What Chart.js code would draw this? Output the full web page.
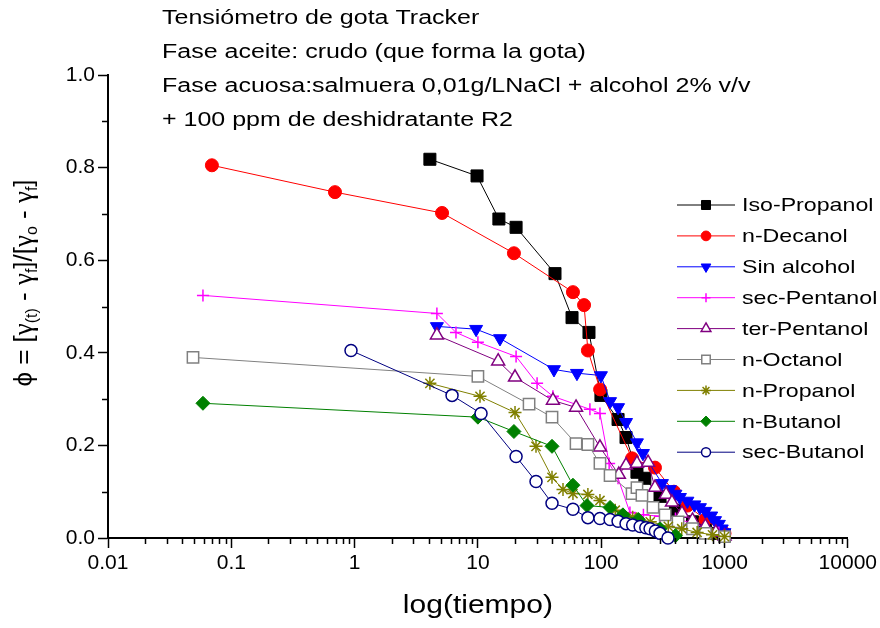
<!DOCTYPE html>
<html>
<head>
<meta charset="utf-8">
<script src="https://cdn.jsdelivr.net/npm/chart.js@4.4.1/dist/chart.umd.min.js"></script>
<style>
  html, body { margin: 0; padding: 0; background: #fff; }
  #wrap { width: 880px; height: 628px; }
</style>
</head>
<body>
<div id="wrap"><canvas id="chart" width="880" height="628"></canvas></div>
<script>
// series names and colours (legend order)
const seriesNames = ['Iso-Propanol', 'n-Decanol', 'Sin alcohol', 'sec-Pentanol', 'ter-Pentanol',
                     'n-Octanol', 'n-Propanol', 'n-Butanol', 'sec-Butanol'];

// values (time in s, phi)
const isoPropanolX = [4.08, 9.84, 14.8, 20.4, 42.2, 58, 79.6, 99.5, 137, 159, 195, 226, 300, 400, 550, 700, 850, 1000];
const isoPropanolY = [0.818, 0.782, 0.689, 0.671, 0.571, 0.476, 0.444, 0.308, 0.256, 0.217, 0.142, 0.129, 0.09, 0.06, 0.035, 0.02, 0.01, 0.005];

const nDecanolX = [0.0696, 0.693, 5.12, 19.6, 59, 72.6, 78, 98, 178, 273, 389, 500, 700, 1000];
const nDecanolY = [0.805, 0.747, 0.702, 0.615, 0.531, 0.503, 0.405, 0.321, 0.172, 0.152, 0.1, 0.07, 0.04, 0.01];

const sinAlcoholX = [4.65, 9.67, 15.1, 41.4, 63.6, 99.5, 118, 137, 159, 195, 218, 311, 360, 400, 435, 500, 570, 632, 700, 780, 838, 900, 950, 1000];
const sinAlcoholY = [0.457, 0.451, 0.431, 0.364, 0.356, 0.351, 0.295, 0.282, 0.250, 0.206, 0.183, 0.118, 0.105, 0.095, 0.088, 0.08, 0.072, 0.066, 0.058, 0.048, 0.038, 0.03, 0.02, 0.012];

const secPentanolX = [0.0589, 4.65, 6.64, 10.0, 20.4, 30.2, 40.6, 81, 97.7, 116, 137, 171, 220, 300, 400, 550, 700, 900, 1000];
const secPentanolY = [0.524, 0.485, 0.444, 0.423, 0.392, 0.334, 0.306, 0.278, 0.269, 0.161, 0.129, 0.055, 0.05, 0.047, 0.042, 0.032, 0.022, 0.012, 0.005];

const terPentanolX = [4.65, 14.6, 20.0, 40.6, 62.5, 97.7, 139, 159, 195, 240, 273, 336, 375, 452, 550, 700, 850, 1000];
const terPentanolY = [0.438, 0.382, 0.347, 0.297, 0.282, 0.196, 0.137, 0.157, 0.161, 0.163, 0.109, 0.094, 0.077, 0.053, 0.038, 0.025, 0.012, 0.004];

const nOctanolX = [0.0489, 10.0, 26, 39.9, 62.5, 78, 97.7, 118, 178, 195, 214, 263, 330, 420, 550, 700, 1000];
const nOctanolY = [0.390, 0.349, 0.289, 0.261, 0.204, 0.202, 0.161, 0.135, 0.096, 0.109, 0.092, 0.066, 0.05, 0.035, 0.02, 0.01, 0.003];

const nPropanolX = [4.08, 10.4, 20.0, 29.6, 39.9, 49.0, 59, 78, 97.7, 130, 180, 250, 350, 450, 600, 800, 1000];
const nPropanolY = [0.334, 0.306, 0.271, 0.198, 0.131, 0.105, 0.096, 0.094, 0.081, 0.06, 0.045, 0.035, 0.025, 0.02, 0.012, 0.007, 0.003];

const nButanolX = [0.0589, 10.0, 19.6, 39.9, 59, 76.7, 118, 150, 200, 300, 400];
const nButanolY = [0.291, 0.261, 0.230, 0.198, 0.114, 0.070, 0.066, 0.05, 0.04, 0.02, 0.005];

const secButanolX = [0.935, 6.17, 10.6, 20.4, 29.6, 39.9, 59, 78, 97.7, 118, 137, 159, 180, 207, 230, 249, 275, 300, 348];
const secButanolY = [0.405, 0.308, 0.269, 0.176, 0.122, 0.075, 0.062, 0.044, 0.042, 0.040, 0.036, 0.031, 0.028, 0.025, 0.022, 0.02, 0.015, 0.01, 0.0];

// tick labels
const xTickLabels = ['0.01', '0.1', '1', '10', '100', '1000', '10000'];
const yTickLabels = ['0.0', '0.2', '0.4', '0.6', '0.8', '1.0'];

const titleLines = [
    'Tensiómetro de gota Tracker',
    'Fase aceite: crudo (que forma la gota)',
    'Fase acuosa:salmuera 0,01g/LNaCl + alcohol 2% v/v',
    '+ 100 ppm de deshidratante R2'
];
const xTitle = 'log(tiempo)';

const FONT = '"Liberation Sans", Arial, sans-serif';

// marker style for each series
const styles = [
    { color: '#000000', shape: 'rect', r: 8.5, fill: '#000000', bw: 1 },
    { color: '#FF0000', shape: 'circle', r: 6.5, fill: '#FF0000', bw: 1 },
    { color: '#0000FF', shape: 'triangle', r: 7.5, fill: '#0000FF', bw: 1, rot: 180 },
    { color: '#FF00FF', shape: 'cross', r: 6, fill: '#FF00FF', bw: 1.5 },
    { color: '#800080', shape: 'triangle', r: 7.5, fill: '#FFFFFF', bw: 1.5 },
    { color: '#808080', shape: 'rect', r: 8, fill: '#FFFFFF', bw: 1.5 },
    { color: '#808000', shape: 'star', r: 6.5, fill: '#808000', bw: 1.5 },
    { color: '#008000', shape: 'rectRot', r: 7, fill: '#008000', bw: 1 },
    { color: '#000080', shape: 'circle', r: 6, fill: '#FFFFFF', bw: 1.5 }
];

const xs = [isoPropanolX, nDecanolX, sinAlcoholX, secPentanolX, terPentanolX, nOctanolX, nPropanolX, nButanolX, secButanolX];
const ys = [isoPropanolY, nDecanolY, sinAlcoholY, secPentanolY, terPentanolY, nOctanolY, nPropanolY, nButanolY, secButanolY];

const datasets = seriesNames.map(function (name, i) {
    const s = styles[i];
    return {
        label: name,
        data: xs[i].map((x, j) => ({ x: x, y: ys[i][j] })),
        showLine: true,
        borderColor: s.color,
        borderWidth: 1,
        pointStyle: s.shape,
        pointRadius: s.r,
        pointHoverRadius: s.r,
        pointRotation: s.rot || 0,
        pointBackgroundColor: s.fill,
        pointBorderColor: s.color,
        pointBorderWidth: s.bw,
        clip: false,
        order: seriesNames.length - i   // later series drawn on top
    };
});

function isPow10(v) {
    const l = Math.log10(v);
    return Math.abs(l - Math.round(l)) < 1e-6;
}

// text drawn a little wider, like the original
function wideText(ctx, text, x, y, align, stretch) {
    ctx.save();
    ctx.translate(x, y);
    ctx.scale(stretch || 1.2, 1);
    ctx.textAlign = align || 'left';
    ctx.fillText(text, 0, 0);
    ctx.restore();
}

// title text, axis titles, custom legend, minor ticks
const extrasPlugin = {
    id: 'extras',
    afterDraw(chart) {
        const ctx = chart.ctx;
        const xScale = chart.scales.x;
        const yScale = chart.scales.y;
        const area = chart.chartArea;
        ctx.save();

        // minor ticks
        ctx.strokeStyle = '#000';
        ctx.lineWidth = 1.5;
        ctx.beginPath();
        for (let e = -2; e <= 3; e++) {
            for (let k = 2; k <= 9; k++) {
                const px = Math.round(xScale.getPixelForValue(k * Math.pow(10, e))) + 0.5;
                ctx.moveTo(px, area.bottom);
                ctx.lineTo(px, area.bottom + 6);
            }
        }
        [0.1, 0.3, 0.5, 0.7, 0.9].forEach(function (v) {
            const py = Math.round(yScale.getPixelForValue(v)) + 0.5;
            ctx.moveTo(area.left, py);
            ctx.lineTo(area.left - 6, py);
        });
        ctx.stroke();

        // title block
        ctx.fillStyle = '#000';
        ctx.font = '20px ' + FONT;
        ctx.textBaseline = 'middle';
        titleLines.forEach(function (t, i) {
            wideText(ctx, t, 162, 18 + i * 34.3, 'left', 1.25);
        });

        // x axis title
        ctx.font = '25px ' + FONT;
        wideText(ctx, xTitle, (area.left + area.right) / 2, 606, 'center');

        // y axis title
        const parts = [
            ['ϕ = [', 'n'], ['γ', 'g'], ['(t)', 's'], [' - ', 'n'], ['γ', 'g'], ['f', 's'],
            [']/[', 'n'], ['γ', 'g'], ['o', 's'], [' - ', 'n'], ['γ', 'g'], ['f', 's'], [']', 'n']
        ];
        const fonts = {
            n: '26px ' + FONT,
            g: '27px "Liberation Serif", "DejaVu Serif", serif',
            s: '16px ' + FONT
        };
        let total = 0;
        parts.forEach(function (p) { ctx.font = fonts[p[1]]; total += ctx.measureText(p[0]).width; });
        ctx.translate(24, 283);
        ctx.rotate(-Math.PI / 2);
        ctx.textBaseline = 'alphabetic';
        ctx.textAlign = 'left';
        let cx = -total / 2;
        parts.forEach(function (p) {
            ctx.font = fonts[p[1]];
            ctx.fillText(p[0], cx, p[1] === 's' ? 13 : 8);
            cx += ctx.measureText(p[0]).width;
        });
        ctx.setTransform(1, 0, 0, 1, 0, 0);

        // legend
        ctx.font = '19px ' + FONT;
        ctx.textBaseline = 'middle';
        seriesNames.forEach(function (name, i) {
            const s = styles[i];
            const y = 205 + i * 30.9;
            ctx.strokeStyle = s.color;
            ctx.lineWidth = 1;
            ctx.beginPath();
            ctx.moveTo(677, y);
            ctx.lineTo(735, y);
            ctx.stroke();
            ctx.fillStyle = s.fill;
            ctx.strokeStyle = s.color;
            ctx.lineWidth = s.bw;
            Chart.helpers.drawPoint(ctx, {
                pointStyle: s.shape, radius: s.r * 0.75, rotation: s.rot || 0, borderWidth: s.bw
            }, 706, y);
            ctx.fillStyle = '#000';
            wideText(ctx, name, 742, y + 1, 'left', 1.22);
        });
        ctx.restore();
    }
};

new Chart(document.getElementById('chart'), {
    type: 'scatter',
    data: { datasets: datasets },
    options: {
        responsive: false,
        animation: false,
        events: [],
        layout: { padding: { top: 75, right: 32, left: 0, bottom: 0 } },
        plugins: {
            legend: { display: false },
            tooltip: { enabled: false }
        },
        scales: {
            x: {
                type: 'logarithmic',
                min: 0.01,
                max: 10000,
                afterFit: function (scale) { scale.height = 90; },
                border: { display: true, color: '#000', width: 2 },
                grid: {
                    drawOnChartArea: false,
                    drawTicks: true,
                    tickLength: 10,
                    tickWidth: 1.5,
                    tickColor: ctx => (ctx.tick && isPow10(ctx.tick.value)) ? '#000' : 'rgba(0,0,0,0)'
                },
                ticks: {
                    autoSkip: false,
                    maxRotation: 0,
                    padding: 3,
                    color: '#000',
                    font: { family: FONT, size: 21 },
                    callback: function (v) {
                        if (!isPow10(v)) return '';
                        return xTickLabels[Math.round(Math.log10(v)) + 2];
                    }
                }
            },
            y: {
                min: 0,
                max: 1,
                afterFit: function (scale) { scale.width = 108; },
                border: { display: true, color: '#000', width: 2 },
                grid: {
                    drawOnChartArea: false,
                    drawTicks: true,
                    tickLength: 10,
                    tickWidth: 1.5,
                    tickColor: '#000'
                },
                ticks: {
                    stepSize: 0.2,
                    padding: 3,
                    color: '#000',
                    font: { family: FONT, size: 21 },
                    callback: function (v) { return yTickLabels[Math.round(v * 5)]; }
                }
            }
        }
    },
    plugins: [extrasPlugin]
});
</script>
</body>
</html>
